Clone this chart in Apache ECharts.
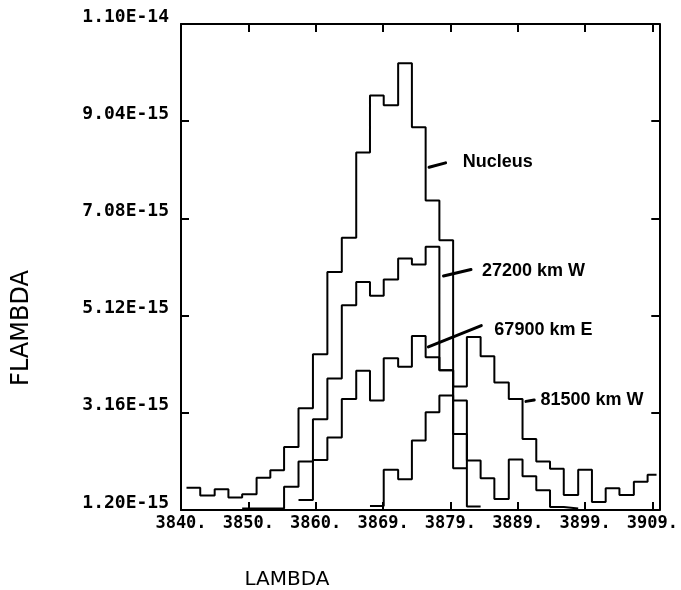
<!DOCTYPE html>
<html>
<head>
<meta charset="utf-8">
<script src="https://cdn.jsdelivr.net/npm/echarts@6/dist/echarts.min.js"></script>
<style>
  html, body { margin: 0; padding: 0; background: #fff; }
  #main { width: 681px; height: 590px; }
</style>
</head>
<body>
<div id="main"></div>
<script>
// bin edges (Angstrom); bin i runs from binEdges[i] to binEdges[i + 1]
const binEdges = [3840.8, 3842.8, 3844.9, 3846.9, 3848.9, 3851.0, 3853.0, 3855.0, 3857.1, 3859.2,
  3861.3, 3863.4, 3865.5, 3867.5, 3869.5, 3871.6, 3873.6, 3875.6, 3877.6, 3879.6,
  3881.6, 3883.6, 3885.6, 3887.7, 3889.7, 3891.7, 3893.7, 3895.7, 3897.8, 3899.8,
  3901.8, 3903.8, 3905.9, 3907.9, 3909.2]

// flux per bin, in units of 1E-15 (null = no data in that bin)
const nucleus = [1.65, 1.49, 1.62, 1.45, 1.52, 1.85, 2.00, 2.47, 3.25, 4.34,
  6.00, 6.69, 8.41, 9.56, 9.36, 10.21, 8.92, 7.44, 6.64, 3.69,
  4.69, 4.30, 3.77, 3.44, 2.63, 2.18, 2.03, 1.50, 2.01, 1.36,
  1.64, 1.50, 1.77, 1.91]
const km27200W = [null, null, null, null, 1.23, 1.23, 1.23, 1.67, 2.18, 3.03,
  3.85, 5.33, 5.80, 5.52, 5.85, 6.27, 6.15, 6.51, 4.02, 2.73,
  2.20, 1.84, 1.42, 2.22, 1.88, 1.60, 1.26, 1.23]
const km67900E = [null, null, null, null, null, null, null, null, 1.40, 2.21,
  2.66, 3.44, 4.01, 3.41, 4.26, 4.09, 4.71, 4.28, 4.02, 3.41,
  1.27]
const km81500W = [null, null, null, null, null, null, null, null, null, null,
  null, null, null, 1.28, 2.01, 1.82, 2.60, 3.17, 3.51, 2.04]

const seriesNames = ['Nucleus', '27200 km W', '67900 km E', '81500 km W']
const seriesValues = [nucleus, km27200W, km67900E, km81500W]

// labels with pointer: [from point, to point, text anchor] in data coordinates
const notes = [
  { text: 'Nucleus', from: [3876.1, 8.11], to: [3878.5, 8.20], at: [3881.0, 8.22] },
  { text: '27200 km W', from: [3878.2, 5.92], to: [3882.2, 6.05], at: [3883.8, 6.02] },
  { text: '67900 km E', from: [3876.0, 4.49], to: [3883.7, 4.92], at: [3885.6, 4.83] },
  { text: '81500 km W', from: [3890.2, 3.39], to: [3891.4, 3.42], at: [3892.3, 3.42] }
]

const xMin = 3840
const xStep = 9.8
const yMin = 1.2
const yStep = 1.96

// histogram -> points for a step line
function toSteps(values) {
  const pts = []
  let last = null
  for (let i = 0; i < values.length; i++) {
    if (values[i] == null) continue
    pts.push([binEdges[i], values[i]])
    last = i
  }
  if (last !== null) pts.push([binEdges[last + 1], values[last]])
  return pts
}

const black = '#000'
const tickFont = 'DejaVu Sans Mono'

function xAxisOf(pos, labels) {
  return {
    type: 'value',
    position: pos,
    min: xMin,
    max: 3909.6,
    interval: xStep,
    axisLine: { onZero: false, lineStyle: { color: black, width: 2 } },
    axisTick: { inside: true, length: 8, lineStyle: { color: black, width: 2 } },
    axisLabel: {
      show: labels,
      color: black,
      fontFamily: tickFont,
      fontWeight: 'bold',
      fontSize: 17,
      margin: 5,
      formatter: v => {
        const k = (v - xMin) / xStep
        if (Math.abs(k - Math.round(k)) > 1e-6) return ''
        return Math.round(v) + '.'
      }
    },
    splitLine: { show: false }
  }
}

function yAxisOf(pos, labels) {
  return {
    type: 'value',
    position: pos,
    min: yMin,
    max: 11.0,
    interval: yStep,
    axisLine: { onZero: false, lineStyle: { color: black, width: 2 } },
    axisTick: { inside: true, length: 8, lineStyle: { color: black, width: 2 } },
    axisLabel: {
      show: labels,
      color: black,
      fontFamily: tickFont,
      fontWeight: 'bold',
      fontSize: 18,
      margin: 12,
      verticalAlign: 'bottom',
      lineHeight: 14,
      formatter: v => (v * 1e-15).toExponential(2).toUpperCase()
    },
    splitLine: { show: false }
  }
}

const chart = echarts.init(document.getElementById('main'))

const option = {
  animation: false,
  backgroundColor: '#fff',
  grid: { left: 181, right: 16, top: 24, bottom: 80 },
  xAxis: [xAxisOf('bottom', true), xAxisOf('top', false)],
  yAxis: [yAxisOf('left', true), yAxisOf('right', false)],
  series: seriesValues.map((vals, i) => ({
    name: seriesNames[i],
    type: 'line',
    step: 'end',
    showSymbol: false,
    symbol: 'none',
    xAxisIndex: 0,
    yAxisIndex: 0,
    lineStyle: { color: black, width: 2 },
    data: toSteps(vals)
  }))
}

chart.setOption(option)

// pointer lines and texts, placed through the grid's own scales
const px = p => chart.convertToPixel({ gridIndex: 0 }, p)
const graphics = []
notes.forEach(n => {
  const a = px(n.from)
  const b = px(n.to)
  const t = px(n.at)
  graphics.push({
    type: 'line',
    shape: { x1: a[0], y1: a[1], x2: b[0], y2: b[1] },
    style: { stroke: black, lineWidth: 3, lineCap: 'round' }
  })
  graphics.push({
    type: 'text',
    x: t[0],
    y: t[1],
    style: { text: n.text, fill: black, font: 'bold 18px "Liberation Sans", Arial, sans-serif', align: 'left', verticalAlign: 'middle' }
  })
})

// axis titles
graphics.push({
  type: 'text',
  x: 22,
  y: 328,
  rotation: Math.PI / 2,
  style: { text: 'FLAMBDA', fill: black, font: '24px "DejaVu Sans"', align: 'center', verticalAlign: 'middle' }
})
graphics.push({
  type: 'text',
  x: 287,
  y: 580,
  style: { text: 'LAMBDA', fill: black, font: '20px "DejaVu Sans"', align: 'center', verticalAlign: 'middle' }
})

chart.setOption({ graphic: graphics })
</script>
</body>
</html>
